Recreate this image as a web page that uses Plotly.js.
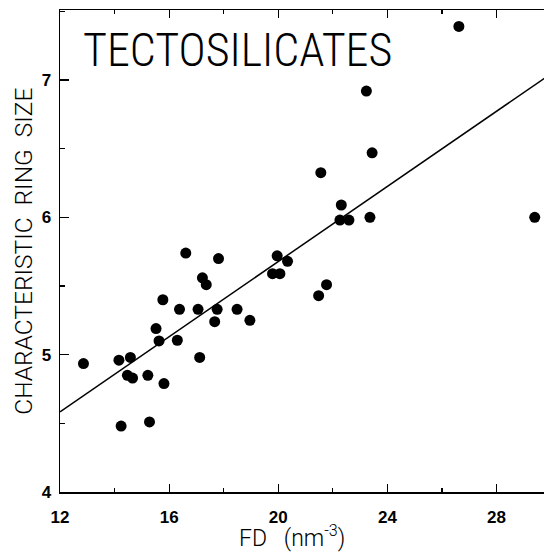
<!DOCTYPE html>
<html>
<head>
<meta charset="utf-8">
<script src="https://cdn.plot.ly/plotly-3.0.1.min.js"></script>
<style>html,body{margin:0;padding:0;background:#fff;}#chart{width:544px;height:552px;}</style>
</head>
<body>
<div id="chart"></div>
<script>
// Framework density FD (nm^-3) and characteristic ring size
const fd = [12.86, 14.16, 14.58, 14.47, 14.66, 14.24, 15.22, 15.28, 15.81, 15.52,
            15.63, 15.77, 16.30, 16.38, 16.61, 17.12, 17.06, 17.22, 17.36, 17.67,
            17.76, 17.81, 18.49, 18.96, 19.79, 20.06, 19.96, 20.34, 21.48, 21.77,
            21.56, 22.31, 22.26, 22.59, 23.23, 23.44, 23.36, 26.62, 29.40];
const ringSize = [4.935, 4.96, 4.98, 4.85, 4.83, 4.48, 4.85, 4.51, 4.79, 5.19,
                  5.10, 5.40, 5.105, 5.33, 5.74, 4.98, 5.33, 5.56, 5.51, 5.24,
                  5.33, 5.70, 5.33, 5.25, 5.59, 5.59, 5.72, 5.68, 5.43, 5.51,
                  6.325, 6.09, 5.98, 5.98, 6.92, 6.47, 6.00, 7.39, 6.00];
// Regression line end points
const fitX = [12, 30];
const fitY = [4.584, 7.046];

const xTickVals = [12, 16, 20, 24, 28];
const xTickText = ['12', '16', '20', '24', '28'];
const yTickVals = [4, 5, 6, 7];
const yTickText = ['4', '5', '6', '7'];

const titleText = 'TECTOSILICATES';
const xTitle = 'FD&nbsp;&nbsp;&nbsp;(nm<sup>-3</sup>)';
const yTitle = 'CHARACTERISTIC&nbsp;&nbsp;RING&nbsp;&nbsp;SIZE';

const tickFont = {family: 'Liberation Sans, Arial, sans-serif', size: 17, color: '#000', weight: 'bold'};
const narrowFont = 'Roboto Condensed, Liberation Sans Narrow, DejaVu Sans Condensed, sans-serif';
const thinFont = 'Roboto, Liberation Sans, sans-serif';

const data = [
  {x: fitX, y: fitY, mode: 'lines', type: 'scatter',
   line: {color: '#000', width: 1.5}, hoverinfo: 'skip', showlegend: false},
  {x: fd, y: ringSize, mode: 'markers', type: 'scatter',
   marker: {color: '#000', size: 11}, showlegend: false}
];

const layout = {
  width: 544, height: 552,
  margin: {l: 60, r: 0, t: 10, b: 60},
  paper_bgcolor: '#fff', plot_bgcolor: '#fff',
  showlegend: false,
  xaxis: {
    range: [12, 29.74], showgrid: false, zeroline: false,
    showline: true, linecolor: '#000', linewidth: 1.5, mirror: 'ticks',
    ticks: 'inside', ticklen: 8, tickwidth: 1.2, tickcolor: '#000',
    tickmode: 'array', tickvals: xTickVals, ticktext: xTickText,
    tickfont: tickFont, ticklabelstandoff: 9,
    minor: {tickmode: 'linear', tick0: 12, dtick: 2, ticks: 'inside', ticklen: 4, tickwidth: 1.2, tickcolor: '#000', showgrid: false}
  },
  yaxis: {
    range: [4, 7.51], showgrid: false, zeroline: false,
    showline: true, linecolor: '#000', linewidth: 1.5, mirror: false,
    ticks: 'inside', ticklen: 9, tickwidth: 1.2, tickcolor: '#000',
    tickmode: 'array', tickvals: yTickVals, ticktext: yTickText,
    tickfont: tickFont, ticklabelstandoff: 4,
    minor: {tickmode: 'linear', tick0: 4, dtick: 0.5, ticks: 'inside', ticklen: 5, tickwidth: 1.2, tickcolor: '#000', showgrid: false}
  },
  annotations: [
    {text: titleText, xref: 'x', yref: 'y', x: 12.78, y: 7.22, xanchor: 'left', yanchor: 'middle',
     showarrow: false, font: {family: narrowFont, size: 46, color: '#000', weight: 300}},
    {text: xTitle, xref: 'x', yref: 'paper', x: 20.52, y: -0.093, xanchor: 'center', yanchor: 'middle',
     showarrow: false, font: {family: thinFont, size: 23, color: '#000', weight: 300}},
    {text: yTitle, xref: 'paper', yref: 'paper', x: -0.077, y: 0.5, xanchor: 'center', yanchor: 'middle',
     textangle: -90, showarrow: false, font: {family: thinFont, size: 24.5, color: '#000', weight: 300}}
  ]
};

Plotly.newPlot('chart', data, layout, {displayModeBar: false, staticPlot: true});
</script>
</body>
</html>
